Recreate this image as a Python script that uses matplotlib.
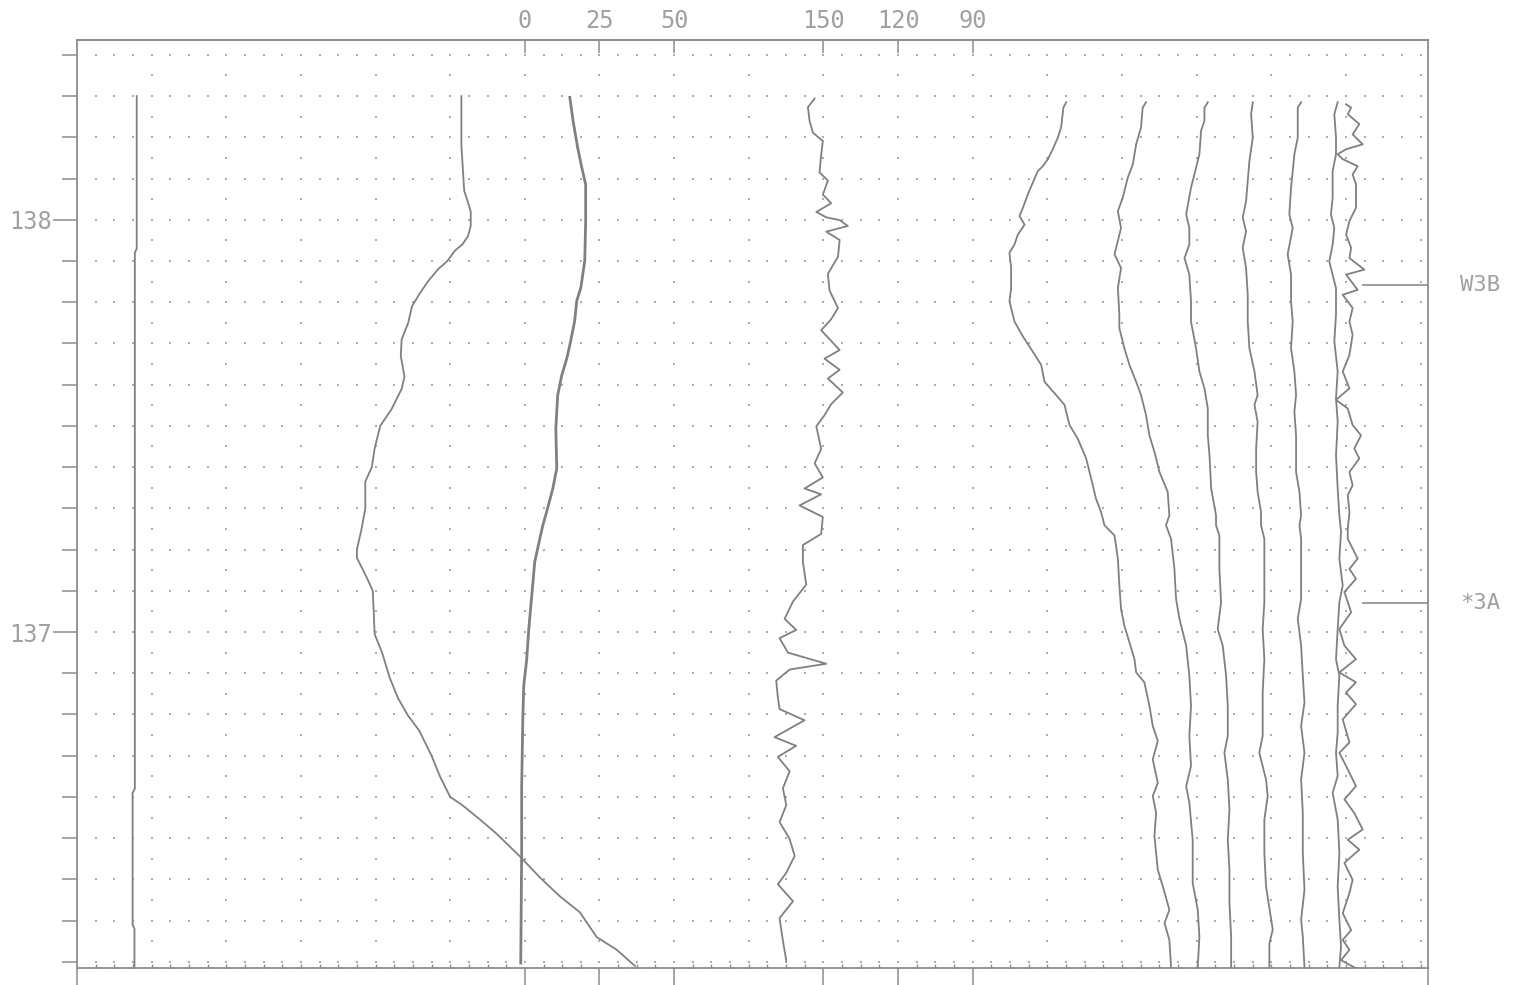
import matplotlib
matplotlib.use("Agg")
import matplotlib.pyplot as plt
import numpy as np

plt.rcParams['font.family'] = ['DejaVu Sans Mono', 'DejaVu Sans']

# x is in grid units (one dot column = 1), depth on y
top_tick_pos = [24, 28, 32, 40, 44, 48]
top_tick_labels = ['0', '25', '50', '150', '120', '90']
marker_names = ['W3B', '*3A']
marker_depths = [137.842, 137.071]

a_depth = [138.30, 137.93, 137.92, 136.62, 136.61, 136.29, 136.28, 136.19]
a_val = [3.2, 3.2, 3.1, 3.1, 2.98, 2.98, 3.08, 3.08]

b_depth = [138.30, 138.18, 138.07, 138.05, 138.02, 137.985, 137.96, 137.94, 137.925, 137.90,
           137.88, 137.85, 137.82, 137.79, 137.75, 137.71, 137.67, 137.62, 137.59, 137.54,
           137.50, 137.445, 137.40, 137.365, 137.30, 137.25, 137.20, 137.18, 137.13, 137.10,
           137.05, 136.995, 136.95, 136.89, 136.84, 136.80, 136.76, 136.70, 136.65, 136.60,
           136.58, 136.545, 136.51, 136.455, 136.405, 136.36, 136.32, 136.26, 136.23, 136.19]
b_val = [20.6, 20.6, 20.75, 20.9, 21.1, 21.1, 20.95, 20.65, 20.25, 19.85,
         19.35, 18.8, 18.35, 17.95, 17.75, 17.4, 17.35, 17.55, 17.4, 16.85,
         16.25, 15.95, 15.8, 15.45, 15.45, 15.25, 15.0, 15.0, 15.55, 15.85,
         15.9, 15.95, 16.35, 16.75, 17.2, 17.7, 18.35, 19.0, 19.45, 20.0,
         20.65, 21.6, 22.5, 23.75, 24.8, 25.85, 26.95, 27.85, 28.9, 29.9]

c_depth = [138.297, 138.241, 138.175, 138.127, 138.085, 137.998, 137.900, 137.835, 137.803, 137.754,
           137.696, 137.664, 137.623, 137.574, 137.494, 137.397, 137.348, 137.292, 137.258, 137.226,
           137.170, 137.088, 137.007, 136.934, 136.869, 136.788, 136.625, 136.465, 136.197]
c_val = [26.41, 26.58, 26.83, 27.05, 27.26, 27.26, 27.21, 27.00, 26.78, 26.67,
         26.41, 26.25, 25.98, 25.76, 25.66, 25.71, 25.50, 25.17, 24.96, 24.80,
         24.53, 24.37, 24.21, 24.10, 23.94, 23.89, 23.83, 23.83, 23.78]

d_depth = [138.294, 138.273, 138.239, 138.211, 138.191, 138.157, 138.115, 138.095, 138.061, 138.040,
           138.019, 138.006, 137.999, 137.985, 137.971, 137.951, 137.910, 137.869, 137.828, 137.786,
           137.759, 137.732, 137.684, 137.663, 137.636, 137.615, 137.581, 137.553, 137.526, 137.499,
           137.444, 137.409, 137.375, 137.348, 137.334, 137.307, 137.279, 137.238, 137.211, 137.170,
           137.115, 137.074, 137.032, 137.005, 136.985, 136.950, 136.923, 136.909, 136.882, 136.841,
           136.813, 136.786, 136.745, 136.724, 136.697, 136.662, 136.621, 136.580, 136.539, 136.498,
           136.457, 136.416, 136.388, 136.347, 136.306, 136.251, 136.203]
d_val = [39.53, 39.17, 39.26, 39.44, 39.97, 39.88, 39.79, 40.24, 39.97, 40.42,
         39.62, 40.15, 40.87, 41.31, 40.15, 40.87, 40.78, 40.24, 40.33, 40.78,
         40.42, 39.88, 40.87, 40.06, 40.87, 40.24, 41.04, 40.42, 40.06, 39.62,
         39.88, 39.53, 39.97, 38.99, 39.88, 38.72, 39.97, 39.88, 38.90, 38.90,
         39.08, 38.37, 37.92, 38.54, 37.65, 38.10, 40.15, 38.19, 37.47, 37.56,
         37.65, 38.99, 37.38, 38.54, 37.56, 38.19, 37.83, 38.01, 37.65, 38.19,
         38.46, 38.01, 37.56, 38.37, 37.65, 37.83, 38.01]

e_depth = [138.285, 138.272, 138.224, 138.199, 138.171, 138.147, 138.130, 138.118, 138.090, 138.061,
           138.029, 138.009, 137.988, 137.964, 137.940, 137.920, 137.883, 137.834, 137.802, 137.753,
           137.717, 137.680, 137.648, 137.607, 137.575, 137.551, 137.502, 137.469, 137.421, 137.372,
           137.323, 137.291, 137.259, 137.234, 137.178, 137.113, 137.056, 137.015, 136.975, 136.934,
           136.902, 136.878, 136.821, 136.772, 136.736, 136.691, 136.634, 136.602, 136.561, 136.505,
           136.423, 136.383, 136.326, 136.294, 136.253, 136.188]
e_val = [53.01, 52.86, 52.74, 52.56, 52.29, 52.03, 51.76, 51.49, 51.22, 50.95,
         50.69, 50.51, 50.78, 50.42, 50.24, 49.97, 50.06, 50.06, 49.97, 50.24,
         50.69, 51.22, 51.67, 51.85, 52.47, 52.92, 53.19, 53.63, 54.08, 54.35,
         54.61, 54.88, 55.06, 55.60, 55.78, 55.86, 55.95, 56.13, 56.40, 56.67,
         56.76, 57.20, 57.47, 57.65, 57.92, 57.65, 57.92, 57.65, 57.83, 57.74,
         57.92, 58.19, 58.54, 58.28, 58.54, 58.63]

f_depth = [138.285, 138.272, 138.224, 138.183, 138.134, 138.102, 138.053, 138.021, 137.980, 137.916,
           137.883, 137.834, 137.770, 137.737, 137.688, 137.648, 137.607, 137.575, 137.526, 137.477,
           137.437, 137.388, 137.340, 137.283, 137.259, 137.226, 137.153, 137.080, 137.032, 136.967,
           136.894, 136.821, 136.748, 136.675, 136.626, 136.586, 136.496, 136.391, 136.326, 136.261,
           136.188]
f_val = [57.29, 57.11, 57.02, 56.76, 56.58, 56.31, 56.04, 55.78, 55.95, 55.60,
         55.95, 55.78, 55.86, 55.86, 56.13, 56.40, 56.76, 57.02, 57.29, 57.47,
         57.74, 58.01, 58.45, 58.54, 58.36, 58.63, 58.81, 58.90, 59.08, 59.44,
         59.61, 59.70, 59.61, 59.70, 59.44, 59.61, 59.79, 59.79, 60.06, 60.15,
         60.06]

g_depth = [138.285, 138.272, 138.240, 138.216, 138.159, 138.110, 138.078, 138.013, 137.980, 137.940,
           137.907, 137.867, 137.802, 137.753, 137.688, 137.632, 137.591, 137.542, 137.477, 137.429,
           137.348, 137.283, 137.259, 137.234, 137.153, 137.072, 137.007, 136.967, 136.894, 136.821,
           136.748, 136.707, 136.642, 136.569, 136.496, 136.423, 136.342, 136.261, 136.188]
g_val = [60.60, 60.42, 60.42, 60.24, 60.15, 59.88, 59.70, 59.44, 59.61, 59.61,
         59.35, 59.61, 59.70, 59.70, 59.97, 60.15, 60.42, 60.60, 60.60, 60.69,
         60.78, 61.04, 61.04, 61.22, 61.22, 61.31, 61.13, 61.40, 61.58, 61.67,
         61.67, 61.49, 61.67, 61.76, 61.67, 61.76, 61.76, 61.85, 61.85]

h_depth = [138.285, 138.256, 138.199, 138.143, 138.094, 138.045, 138.005, 137.972, 137.932, 137.883,
           137.818, 137.753, 137.688, 137.632, 137.575, 137.551, 137.510, 137.445, 137.388, 137.340,
           137.291, 137.259, 137.226, 137.153, 137.072, 137.007, 136.934, 136.853, 136.788, 136.748,
           136.707, 136.642, 136.602, 136.545, 136.464, 136.383, 136.278, 136.245, 136.188]
h_val = [63.01, 62.92, 63.01, 62.83, 62.74, 62.65, 62.47, 62.65, 62.47, 62.65,
         62.74, 62.74, 62.83, 63.10, 63.27, 63.10, 63.27, 63.19, 63.19, 63.27,
         63.45, 63.45, 63.63, 63.63, 63.63, 63.54, 63.63, 63.54, 63.54, 63.54,
         63.36, 63.72, 63.81, 63.63, 63.63, 63.72, 64.08, 63.90, 63.90]

i_depth = [138.285, 138.272, 138.199, 138.159, 138.118, 138.078, 138.013, 137.980, 137.916, 137.867,
           137.802, 137.753, 137.688, 137.632, 137.575, 137.534, 137.477, 137.388, 137.340, 137.283,
           137.259, 137.226, 137.153, 137.080, 137.032, 136.967, 136.894, 136.829, 136.772, 136.707,
           136.642, 136.561, 136.464, 136.375, 136.302, 136.261, 136.188]
i_val = [65.60, 65.42, 65.42, 65.24, 65.15, 65.06, 64.97, 65.15, 64.88, 65.06,
         65.06, 65.15, 65.06, 65.24, 65.33, 65.24, 65.33, 65.33, 65.51, 65.60,
         65.51, 65.60, 65.60, 65.60, 65.42, 65.60, 65.69, 65.78, 65.60, 65.78,
         65.60, 65.69, 65.69, 65.78, 65.60, 65.69, 65.78]

j_depth = [138.285, 138.256, 138.199, 138.159, 138.118, 138.053, 138.013, 137.980, 137.940, 137.899,
           137.834, 137.770, 137.705, 137.632, 137.567, 137.510, 137.429, 137.348, 137.283, 137.243,
           137.178, 137.113, 137.072, 137.007, 136.934, 136.894, 136.821, 136.756, 136.707, 136.651,
           136.610, 136.545, 136.464, 136.383, 136.302, 136.237, 136.188]
j_val = [67.56, 67.38, 67.47, 67.47, 67.29, 67.29, 67.20, 67.38, 67.29, 67.11,
         67.47, 67.47, 67.38, 67.56, 67.47, 67.56, 67.47, 67.56, 67.65, 67.74,
         67.65, 67.83, 67.65, 67.56, 67.47, 67.65, 67.56, 67.56, 67.47, 67.56,
         67.29, 67.56, 67.65, 67.56, 67.65, 67.74, 67.65]

k_depth = [138.280, 138.272, 138.256, 138.232, 138.207, 138.183, 138.171, 138.159, 138.147, 138.130,
           138.110, 138.086, 138.029, 137.997, 137.964, 137.932, 137.907, 137.879, 137.867, 137.830,
           137.818, 137.786, 137.753, 137.721, 137.672, 137.632, 137.591, 137.563, 137.542, 137.502,
           137.477, 137.445, 137.421, 137.388, 137.356, 137.332, 137.291, 137.250, 137.226, 137.178,
           137.153, 137.129, 137.097, 137.048, 137.007, 136.967, 136.934, 136.902, 136.878, 136.853,
           136.825, 136.788, 136.732, 136.707, 136.675, 136.626, 136.594, 136.561, 136.521, 136.496,
           136.472, 136.440, 136.399, 136.367, 136.318, 136.277, 136.253, 136.229, 136.204, 136.180]
k_val = [68.01, 68.28, 68.10, 68.72, 68.36, 68.90, 68.01, 67.56, 67.83, 68.63,
         68.36, 68.54, 68.54, 68.19, 68.01, 68.28, 68.19, 68.99, 68.01, 68.63,
         67.83, 68.36, 68.19, 68.36, 68.19, 67.83, 68.19, 67.47, 68.10, 68.36,
         68.81, 68.45, 68.72, 68.19, 68.36, 68.10, 68.19, 68.10, 68.10, 68.63,
         68.19, 68.54, 67.92, 68.28, 67.65, 67.92, 68.54, 67.65, 68.54, 68.01,
         68.54, 67.83, 68.19, 67.65, 68.01, 68.54, 67.92, 68.45, 68.90, 68.10,
         68.72, 67.92, 68.36, 68.19, 67.83, 68.28, 67.83, 68.19, 67.74, 68.72]

line_col = '#808080'
frame_col = '#8c8c8c'
dot_col = '#ababab'
text_col = '#a0a0a0'

fig = plt.figure(figsize=(15.31, 9.85), dpi=100)
ax = fig.add_axes([77 / 1531, 17 / 985, 1351 / 1531, 928 / 985])
ax.set_xlim(0, 72.4)
ax.set_ylim(136.185, 138.436)

# dotted chart paper
cols = np.arange(1, 73)
rows = np.arange(136.2, 138.401, 0.1)
gx, gy = np.meshgrid(cols, rows)
ax.plot(gx.ravel(), gy.ravel(), 's', ms=1.6, mew=0, color=dot_col, zorder=1)
cols4 = np.arange(4, 73, 4)
rows_half = np.arange(136.25, 138.36, 0.1)
gx, gy = np.meshgrid(cols4, rows_half)
ax.plot(gx.ravel(), gy.ravel(), 's', ms=1.6, mew=0, color=dot_col, zorder=1)

tracks = [(a_val, a_depth, 1.3), (b_val, b_depth, 1.3), (c_val, c_depth, 2.0),
          (d_val, d_depth, 1.3), (e_val, e_depth, 1.3), (f_val, f_depth, 1.3),
          (g_val, g_depth, 1.3), (h_val, h_depth, 1.3), (i_val, i_depth, 1.3),
          (j_val, j_depth, 1.3), (k_val, k_depth, 1.3)]
for v, dep, lw in tracks:
    ax.plot(v, dep, color=line_col, lw=lw, zorder=3)

for name, dep in zip(marker_names, marker_depths):
    ax.plot([68.9, 72.4], [dep, dep], color=frame_col, lw=1.2, zorder=3)
    ax.text(74.1, dep, name, color=text_col, fontsize=16, va='center', ha='left', clip_on=False)

for s in ax.spines.values():
    s.set_color(frame_col)
    s.set_linewidth(1.3)

ax.set_yticks([137, 138])
ax.set_yticklabels(['137', '138'])
ax.set_yticks(np.arange(136.2, 138.41, 0.1), minor=True)
ax.tick_params(axis='y', which='major', direction='out', length=17, width=1.1,
               color=frame_col, pad=1, labelsize=17, labelcolor=text_col)
ax.tick_params(axis='y', which='minor', direction='out', length=11, width=1.1, color=frame_col)

ax.set_xticks([0] + top_tick_pos + [72.4])
ax.set_xticklabels([])
ax.set_xticks(np.arange(1, 73), minor=True)
ax.tick_params(axis='x', which='major', direction='out', length=13, width=1.1, color=frame_col)
ax.tick_params(axis='x', which='minor', direction='in', length=3, width=1, color=frame_col)

top = ax.secondary_xaxis('top')
top.set_xticks(top_tick_pos)
top.set_xticklabels(top_tick_labels)
top.tick_params(direction='in', length=9, width=1.1, color=frame_col, pad=5,
                labelsize=17, labelcolor=text_col)
top.spines['top'].set_color(frame_col)
top.spines['top'].set_linewidth(1.3)

fig.savefig('out.png', dpi=100)
